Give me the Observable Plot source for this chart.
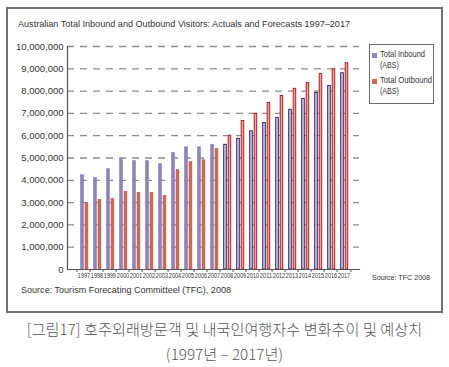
<!DOCTYPE html>
<html><head><meta charset="utf-8">
<script src="https://cdn.jsdelivr.net/npm/d3@7"></script>
<script src="https://cdn.jsdelivr.net/npm/@observablehq/plot@0.6"></script>
<style>
body{margin:0;background:#fff}
#wrap{position:relative;width:449px;height:367px;overflow:hidden;font-family:"Liberation Sans",Arial,sans-serif;color:#333;background:#fff}
#box{position:absolute;left:6px;top:7px;width:437px;height:306px;box-sizing:border-box;border:2px solid #707070}
#chart{position:absolute;left:0;top:0}
.t{position:absolute;white-space:nowrap;line-height:1;transform-origin:0 0}
#title{left:18px;top:19px;font-size:9.6px}
#legend{position:absolute;left:369px;top:44px;width:65px;height:60px;box-sizing:border-box;border:1.5px solid #666}
.sw{position:absolute;left:2px;width:5px;height:5px}
.li{font-size:8.4px}
#src1{left:372px;top:274px;font-size:8px}
#src2{left:21px;top:285px;font-size:9.4px}
.cap{position:absolute;left:0;width:449px;text-align:center;font-family:"Noto Sans CJK KR",sans-serif;color:#555;white-space:nowrap;font-weight:300}
</style></head><body><div id="wrap">
<div id="box"></div>
<div id="chart"></div>
<div class="t" id="title" data-w="332">Australian Total Inbound and Outbound Visitors: Actuals and Forecasts 1997–2017</div>
<div id="legend">
  <div class="sw" style="top:8px;background:#8b84c0"></div>
  <div class="t li" style="left:10px;top:5px" data-w="45">Total Inbound</div>
  <div class="t li" style="left:10px;top:16px" data-w="19">(ABS)</div>
  <div class="sw" style="top:34px;background:#d0674f"></div>
  <div class="t li" style="left:10px;top:31px" data-w="52">Total Outbound</div>
  <div class="t li" style="left:10px;top:42px" data-w="19">(ABS)</div>
</div>
<div class="t" id="src1" data-w="58">Source: TFC 2008</div>
<div class="t" id="src2" data-w="210">Source: Tourism Forecating Committeel (TFC), 2008</div>
<div class="cap" style="top:319px;font-size:15.2px;line-height:18px">[그림17] 호주외래방문객 및 내국인여행자수 변화추이 및 예상치</div>
<div class="cap" style="top:344px;font-size:15.2px;line-height:18px">(1997년 – 2017년)</div>
</div>
<script>
const years = [1997,1998,1999,2000,2001,2002,2003,2004,2005,2006,2007,2008,2009,2010,2011,2012,2013,2014,2015,2016,2017];
const inbound = [4.25,4.12,4.52,4.97,4.88,4.88,4.75,5.24,5.50,5.50,5.60,5.59,5.86,6.20,6.57,6.80,7.16,7.65,7.92,8.23,8.80];
const outbound = [3.00,3.14,3.18,3.50,3.45,3.45,3.32,4.48,4.84,4.92,5.42,6.00,6.66,6.98,7.47,7.78,8.10,8.36,8.76,8.98,9.25];
const yTicks = [0,1e6,2e6,3e6,4e6,5e6,6e6,7e6,8e6,9e6,10e6];
const firstForecast = 2008;

const rows = years.map((y, i) => ({year: String(y), inbound: inbound[i] * 1e6, outbound: outbound[i] * 1e6, forecast: y >= firstForecast}));
const actual = rows.filter(d => !d.forecast);
const fc = rows.filter(d => d.forecast);
const W = 449, H = 367, ML = 67, MR = 90, MT = 46, MB = 98;
const bw = (W - ML - MR) / years.length;
const font = '"Liberation Sans",Arial,sans-serif';

const chart = Plot.plot({
  width: W, height: H,
  marginLeft: ML, marginRight: MR, marginTop: MT, marginBottom: MB,
  style: {background: "transparent", fontFamily: font, color: "#333", overflow: "visible"},
  x: {type: "band", domain: years.map(String), padding: 0},
  y: {domain: [0, 10e6]},
  marks: [
    Plot.ruleY(yTicks.slice(1), {stroke: "#8c8c8c", strokeWidth: 1.3, strokeDasharray: "7,6"}),
    Plot.barY(actual, {x: "year", y: "inbound", fill: "#8b84c0", insetLeft: 3.2, insetRight: 6.2}),
    Plot.barY(actual, {x: "year", y: "outbound", fill: "#d0674f", insetLeft: 7.7, insetRight: 1.8}),
    Plot.barY(fc, {x: "year", y: "inbound", fill: "#d2cdec", stroke: "#2c2a6e", strokeWidth: 1, insetLeft: 3.7, insetRight: 6.7}),
    Plot.barY(fc, {x: "year", y: "outbound", fill: "#f5a594", stroke: "#b01c28", strokeWidth: 1, insetLeft: 8.2, insetRight: 2.3}),
    Plot.frame({anchor: "left", stroke: "#555", strokeWidth: 1.2}),
    Plot.frame({anchor: "bottom", stroke: "#555", strokeWidth: 1.2}),
    Plot.axisY({ticks: yTicks, tickSize: 0, tickPadding: 4, tickFormat: d3.format(","), fontSize: 9.5, label: null}),
    Plot.axisX({tickSize: 3, dx: -bw / 2, tickFormat: () => "", label: null, stroke: "#555"}),
    Plot.axisX(["2017"], {tickSize: 3, dx: bw / 2, tickFormat: () => "", label: null, stroke: "#555"}),
    Plot.axisX({tickSize: 0, tickPadding: 4, fontSize: 6.4, label: null})
  ]
});
document.getElementById("chart").appendChild(chart);

// condense year labels to fit the narrow bands
chart.querySelectorAll("text").forEach(t => {
  if (/^\d{4}$/.test(t.textContent.trim())) {
    t.setAttribute("textLength", (bw - 1.6).toFixed(1));
    t.setAttribute("lengthAdjust", "spacingAndGlyphs");
  }
});
// condense the narrow-looking texts to their widths in the reference
document.querySelectorAll("[data-w]").forEach(el => {
  const w = el.getBoundingClientRect().width;
  const target = +el.dataset.w;
  if (w > 0) el.style.transform = `scaleX(${target / w})`;
});
</script>
</body></html>
